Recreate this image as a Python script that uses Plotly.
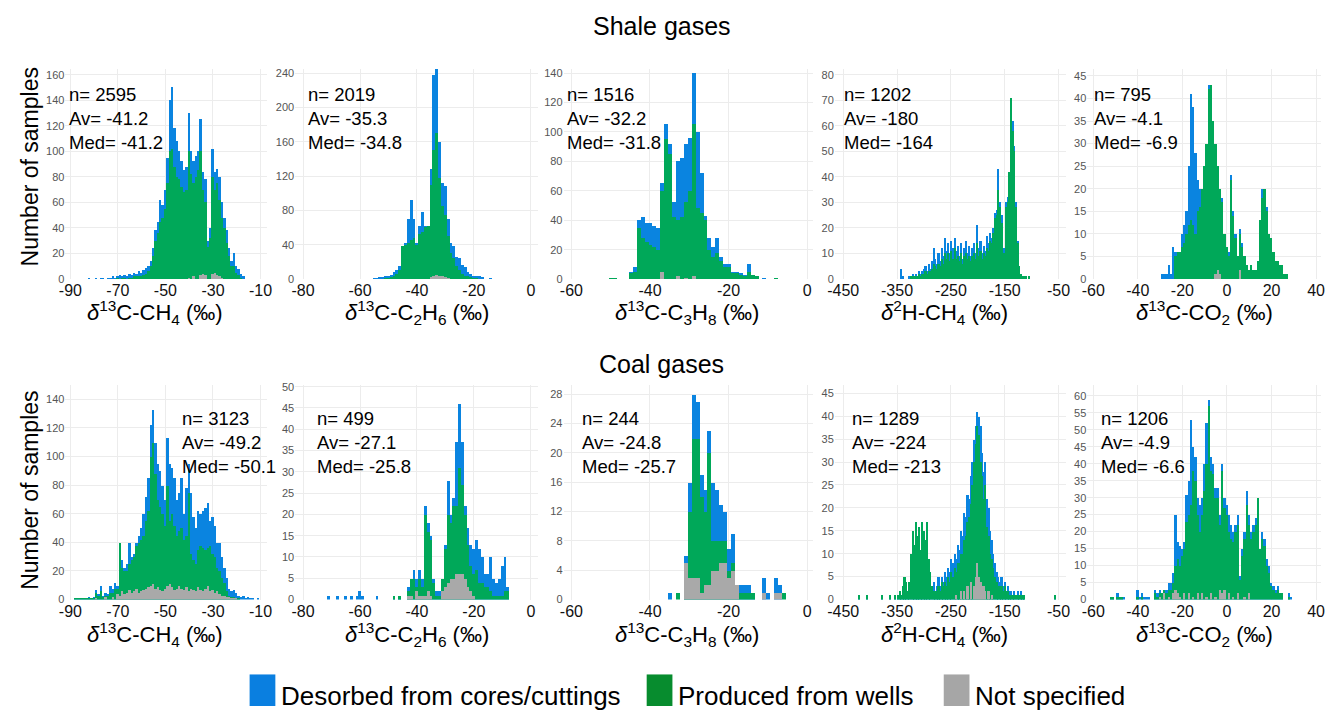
import plotly.graph_objects as go

W, H = 1327, 712
BLUE = "#0a84e0"
GREEN = "#00a859"
GRAY = "#a9a9a9"
LEG_BLUE = "#0a7fe0"
LEG_GREEN = "#078c2e"
LEG_GRAY = "#a6a6a6"
FONT = "Liberation Sans, Arial, sans-serif"

# ---------------- data (bar heights as drawn: desorbed = total, produced, not specified) ----------------
# Shale gases, d13C-CH4, 1 permil bins starting at -82
shale_ch4_start, shale_ch4_bin = -82, 1
shale_ch4_desorbed = [1, 0, 0, 1, 0, 1, 1, 0, 1, 1,
                      2, 1, 2, 3, 2, 3, 2, 4, 3, 5,
                      4, 6, 5, 7, 9, 10, 14, 24, 38, 45,
                      62, 58, 70, 95, 140, 150, 118, 108, 100, 92,
                      85, 88, 130, 100, 92, 96, 100, 125, 84, 78,
                      30, 40, 102, 84, 86, 80, 60, 48, 38, 24,
                      14, 20, 10, 8, 4, 2]
shale_ch4_produced = [0, 0, 0, 0, 0, 0, 0, 0, 0, 0,
                      0, 0, 1, 0, 1, 1, 0, 1, 1, 2,
                      2, 2, 2, 3, 4, 6, 10, 18, 30, 36,
                      45, 48, 55, 75, 100, 102, 88, 80, 78, 72,
                      68, 70, 100, 82, 75, 80, 85, 100, 70, 60,
                      25, 32, 80, 70, 75, 62, 48, 40, 28, 18,
                      10, 10, 5, 3, 1, 0]
shale_ch4_unspecified = [0, 0, 0, 0, 0, 0, 0, 0, 0, 0,
                         0, 0, 0, 0, 0, 0, 0, 0, 0, 0,
                         0, 0, 0, 0, 0, 0, 0, 0, 0, 0,
                         0, 0, 0, 0, 0, 0, 0, 0, 0, 0,
                         0, 0, 1, 0, 2, 0, 0, 3, 4, 3,
                         0, 0, 4, 5, 3, 2, 1, 0, 0, 0,
                         0, 0, 0, 0, 0, 0]

# Shale gases, d13C-C2H6, 1 permil bins starting at -55
shale_c2_start, shale_c2_bin = -55, 1
shale_c2_desorbed = [1, 1, 2, 2, 3, 4, 5, 8, 10, 15,
                     38, 42, 70, 92, 70, 42, 62, 78, 62, 60,
                     128, 238, 245, 160, 112, 108, 70, 42, 38, 26,
                     24, 16, 14, 8, 6, 4, 4, 3, 2, 0,
                     0, 1]
shale_c2_produced = [0, 0, 0, 0, 1, 1, 2, 3, 6, 10,
                     38, 40, 42, 45, 48, 40, 52, 55, 60, 62,
                     110, 150, 170, 118, 85, 75, 50, 30, 25, 15,
                     10, 6, 4, 3, 2, 1, 1, 0, 0, 0,
                     0, 0]
shale_c2_unspecified = [0, 0, 0, 0, 0, 0, 0, 0, 0, 0,
                        0, 0, 0, 0, 0, 0, 0, 0, 0, 0,
                        2, 4, 5, 4, 3, 2, 1, 0, 0, 0,
                        0, 0, 0, 0, 0, 0, 0, 0, 0, 0,
                        0, 0]

# Shale gases, d13C-C3H8, 1 permil bins starting at -51
shale_c3_start, shale_c3_bin = -51, 1
shale_c3_desorbed = [0, 1, 1, 0, 0, 0, 5, 8, 40, 42,
                     38, 38, 36, 35, 65, 105, 92, 52, 80, 82,
                     92, 96, 140, 100, 72, 43, 28, 22, 28, 15,
                     10, 10, 5, 5, 4, 3, 10, 3, 2, 0,
                     1, 0, 0, 1]
shale_c3_produced = [0, 1, 1, 0, 0, 0, 4, 5, 35, 28,
                     25, 23, 22, 20, 60, 95, 85, 42, 40, 42,
                     52, 60, 105, 48, 45, 40, 20, 15, 18, 12,
                     8, 8, 4, 4, 3, 2, 5, 3, 2, 0,
                     0, 0, 0, 1]
shale_c3_unspecified = [0, 0, 0, 0, 0, 0, 0, 0, 0, 0,
                        0, 0, 0, 0, 5, 0, 0, 0, 2, 0,
                        1, 0, 2, 0, 0, 0, 0, 0, 0, 0,
                        0, 0, 0, 0, 0, 0, 0, 0, 0, 0,
                        0, 0, 0, 0]

# Shale gases, d2H-CH4, 3 permil bins starting at -342
shale_dh_start, shale_dh_bin = -342, 3
shale_dh_desorbed = [4, 1, 0, 0, 0, 1, 0, 2, 1, 2,
                     1, 3, 2, 3, 4, 5, 3, 6, 4, 7,
                     12, 8, 6, 10, 7, 12, 9, 16, 11, 14,
                     10, 15, 12, 16, 11, 13, 9, 14, 8, 12,
                     15, 10, 13, 9, 12, 14, 10, 21, 12, 15,
                     10, 13, 11, 17, 14, 18, 16, 20, 26, 27,
                     43, 30, 25, 12, 12, 30, 32, 42, 71, 62,
                     52, 30, 15, 5, 2, 1, 1, 0, 0, 1,
                     0]
shale_dh_produced = [0, 0, 0, 0, 0, 0, 1, 1, 1, 1,
                     1, 2, 1, 2, 2, 3, 2, 3, 3, 4,
                     6, 5, 4, 6, 5, 8, 6, 10, 8, 10,
                     7, 11, 8, 12, 8, 9, 7, 10, 6, 9,
                     10, 8, 9, 7, 9, 10, 8, 14, 9, 11,
                     8, 10, 9, 12, 11, 15, 14, 18, 24, 25,
                     35, 28, 22, 10, 10, 28, 30, 42, 71, 58,
                     50, 28, 14, 5, 2, 1, 1, 1, 0, 1,
                     0]
shale_dh_unspecified = []

# Shale gases, d13C-CO2, 1 permil bins starting at -29
shale_co2_start, shale_co2_bin = -29, 1
shale_co2_desorbed = [1, 1, 1, 3, 1, 7, 6, 6, 6, 10,
                      12, 15, 25, 41, 38, 28, 22, 20, 16, 18,
                      30, 43, 42, 35, 30, 25, 20, 18, 10, 7,
                      6, 23, 15, 10, 5, 11, 8, 5, 3, 2,
                      3, 2, 2, 4, 13, 20, 20, 16, 10, 9,
                      6, 4, 4, 3, 3, 1, 1]
shale_co2_produced = [0, 0, 0, 0, 0, 0, 5, 6, 6, 7,
                      8, 10, 12, 13, 12, 10, 15, 16, 20, 25,
                      30, 42, 43, 35, 30, 25, 20, 17, 10, 7,
                      5, 22, 14, 9, 5, 10, 7, 5, 3, 2,
                      3, 2, 2, 4, 13, 18, 20, 15, 10, 9,
                      6, 4, 4, 3, 3, 1, 1]
shale_co2_unspecified = [0, 0, 0, 0, 0, 0, 0, 0, 0, 0,
                         0, 0, 0, 0, 0, 0, 0, 0, 0, 0,
                         0, 0, 0, 0, 1, 2, 1, 0, 0, 0,
                         0, 0, 0, 0, 0, 2, 0, 0, 0, 0,
                         0, 0, 0, 0, 0, 0, 0, 0, 0, 0,
                         0, 0, 0, 0, 0, 0, 0]

# Coal gases, d13C-CH4, 1 permil bins starting at -88
coal_ch4_start, coal_ch4_bin = -88, 1
coal_ch4_desorbed = [1, 1, 1, 1, 1, 1, 2, 1, 2, 7,
                     4, 10, 3, 5, 4, 10, 8, 12, 10, 40,
                     28, 22, 25, 40, 30, 32, 40, 45, 50, 60,
                     72, 85, 122, 133, 110, 95, 90, 80, 70, 113,
                     95, 92, 85, 70, 75, 85, 60, 78, 95, 75,
                     58, 50, 62, 60, 62, 64, 68, 55, 58, 52,
                     40, 40, 30, 22, 15, 8, 6, 7, 5, 3,
                     2, 3, 1, 2, 1, 1, 0, 1]
coal_ch4_produced = [1, 1, 1, 1, 1, 1, 1, 1, 1, 5,
                     3, 6, 2, 3, 3, 5, 5, 8, 8, 40,
                     22, 20, 20, 25, 28, 30, 38, 40, 42, 45,
                     55, 62, 100, 110, 88, 70, 65, 60, 52, 80,
                     55, 60, 52, 45, 48, 50, 42, 45, 75, 32,
                     28, 25, 35, 38, 36, 35, 36, 38, 32, 30,
                     22, 20, 15, 12, 6, 3, 2, 2, 1, 1,
                     0, 0, 0, 0, 0, 0, 0, 0]
coal_ch4_unspecified = [0, 0, 0, 0, 0, 0, 0, 0, 0, 1,
                        0, 0, 0, 2, 0, 0, 2, 0, 4, 3,
                        6, 4, 5, 7, 5, 6, 8, 5, 6, 7,
                        8, 9, 10, 11, 8, 9, 7, 6, 8, 10,
                        11, 9, 7, 8, 10, 8, 7, 9, 6, 8,
                        7, 6, 9, 7, 6, 8, 10, 6, 7, 5,
                        6, 4, 3, 3, 2, 2, 1, 1, 1, 0,
                        0, 0, 0, 0, 0, 0, 0, 0]

# Coal gases, d13C-C2H6, 1 permil bins starting at -72
coal_c2_start, coal_c2_bin = -72, 1
coal_c2_desorbed = [0, 1, 0, 0, 1, 0, 0, 1, 0, 1,
                    0, 1, 2, 1, 0, 0, 0, 0, 1, 0,
                    0, 0, 0, 0, 1, 0, 1, 0, 0, 3,
                    5, 7, 5, 7, 5, 22, 18, 15, 5, 2,
                    2, 5, 13, 28, 20, 24, 37, 46, 37, 22,
                    17, 13, 12, 14, 12, 10, 6, 6, 10, 5,
                    4, 5, 8, 10, 3]
coal_c2_produced = [0, 0, 0, 0, 0, 0, 0, 0, 0, 0,
                    0, 0, 0, 0, 0, 0, 0, 0, 0, 0,
                    0, 0, 0, 0, 1, 0, 1, 0, 0, 2,
                    5, 5, 3, 5, 3, 20, 16, 14, 4, 1,
                    1, 5, 12, 20, 18, 22, 22, 31, 27, 20,
                    13, 8, 6, 7, 4, 4, 3, 3, 2, 1,
                    1, 1, 1, 2, 2]
coal_c2_unspecified = [0, 0, 0, 0, 0, 0, 0, 0, 0, 0,
                       0, 0, 0, 0, 0, 0, 0, 0, 0, 0,
                       0, 0, 0, 0, 0, 0, 0, 0, 0, 1,
                       1, 0, 2, 1, 1, 1, 2, 1, 0, 0,
                       0, 2, 3, 4, 5, 5, 6, 6, 6, 5,
                       3, 2, 1, 0, 0, 0, 0, 0, 0, 0,
                       0, 0, 0, 0, 0]

# Coal gases, d13C-C3H8, 1 permil bins starting at -35
coal_c3_start, coal_c3_bin = -35, 1
coal_c3_desorbed = [1, 0, 0, 0, 6, 16, 28, 27, 17, 15,
                    23, 16, 15, 13, 12, 7, 9, 2, 2, 2,
                    2, 1, 0, 0, 3, 1, 0, 3, 2, 0,
                    0]
coal_c3_produced = [0, 0, 1, 0, 5, 12, 22, 22, 14, 12,
                    20, 8, 8, 8, 8, 4, 5, 1, 1, 1,
                    1, 1, 0, 0, 0, 0, 0, 0, 0, 1,
                    0]
coal_c3_unspecified = [0, 0, 0, 0, 5, 3, 3, 3, 1, 2,
                       2, 4, 4, 5, 5, 3, 4, 2, 0, 0,
                       0, 0, 0, 0, 1, 0, 0, 1, 1, 0,
                       0]

# Coal gases, d2H-CH4, 3 permil bins starting at -420
coal_dh_start, coal_dh_bin = -420, 3
coal_dh_desorbed = [1, 0, 0, 0, 0, 1, 0, 0, 0, 0,
                    0, 0, 0, 0, 1, 0, 0, 0, 0, 1,
                    0, 0, 1, 0, 1, 2, 1, 3, 5, 4,
                    2, 4, 10, 15, 12, 17, 14, 16, 11, 17,
                    15, 13, 17, 9, 6, 3, 4, 2, 3, 5,
                    3, 5, 4, 6, 5, 7, 6, 9, 8, 10,
                    9, 12, 11, 15, 14, 19, 18, 23, 22, 27,
                    30, 35, 38, 41, 40, 38, 32, 28, 30, 22,
                    20, 15, 13, 10, 8, 6, 5, 4, 5, 3,
                    4, 2, 3, 2, 2, 1, 2, 1, 2, 1,
                    2, 1, 1, 0, 0, 0, 0, 0, 0, 0,
                    0, 0, 0, 0, 0, 0, 0, 0, 0, 0,
                    0, 1]
coal_dh_produced = [1, 0, 0, 0, 0, 1, 0, 0, 0, 0,
                    0, 0, 0, 0, 1, 0, 0, 0, 0, 1,
                    0, 0, 1, 0, 1, 2, 1, 3, 5, 4,
                    2, 4, 10, 15, 12, 17, 14, 16, 11, 17,
                    15, 13, 17, 9, 6, 3, 2, 2, 2, 3,
                    2, 4, 3, 4, 3, 5, 4, 6, 5, 7,
                    6, 8, 8, 10, 10, 13, 14, 17, 18, 21,
                    25, 30, 34, 38, 36, 30, 27, 22, 25, 16,
                    14, 10, 9, 7, 5, 4, 3, 3, 3, 2,
                    3, 2, 2, 1, 1, 1, 1, 1, 1, 1,
                    1, 1, 1, 0, 0, 0, 0, 0, 0, 0,
                    0, 0, 0, 0, 0, 0, 0, 0, 0, 0,
                    0, 1]
coal_dh_unspecified = [0, 0, 0, 0, 0, 0, 0, 0, 0, 0,
                       0, 0, 0, 0, 0, 0, 0, 0, 0, 0,
                       0, 0, 0, 0, 0, 0, 0, 0, 0, 0,
                       0, 0, 0, 0, 0, 0, 0, 0, 0, 0,
                       0, 0, 0, 0, 0, 0, 0, 0, 0, 0,
                       0, 0, 0, 0, 0, 0, 0, 0, 0, 0,
                       1, 0, 0, 2, 0, 2, 0, 3, 0, 4,
                       0, 3, 5, 8, 5, 4, 3, 3, 2, 0,
                       2, 0, 1, 0, 0, 0, 0, 0, 0, 0]

# Coal gases, d13C-CO2, 1 permil bins starting at -52
coal_co2_start, coal_co2_bin = -52, 1
coal_co2_desorbed = [1, 1, 0, 2, 1, 1, 1, 0, 0, 0,
                     0, 0, 3, 1, 2, 1, 1, 1, 0, 0,
                     3, 2, 3, 2, 3, 3, 5, 5, 8, 25,
                     17, 16, 15, 17, 31, 35, 53, 45, 42, 30,
                     28, 30, 40, 52, 59, 42, 40, 33, 33, 25,
                     40, 30, 28, 25, 22, 20, 22, 25, 7, 15,
                     20, 32, 25, 20, 22, 24, 30, 15, 20, 18,
                     12, 10, 5, 4, 3, 4, 2, 2, 0, 0,
                     2, 1]
coal_co2_produced = [1, 1, 0, 1, 1, 1, 0, 0, 0, 0,
                     0, 0, 1, 0, 1, 0, 0, 0, 0, 0,
                     2, 1, 2, 2, 3, 2, 3, 3, 5, 10,
                     12, 10, 13, 15, 23, 25, 28, 38, 35, 25,
                     20, 25, 32, 40, 57, 38, 37, 30, 30, 22,
                     38, 27, 25, 20, 18, 17, 20, 22, 6, 13,
                     18, 28, 22, 18, 20, 22, 30, 15, 18, 16,
                     10, 8, 4, 3, 2, 3, 2, 2, 0, 0,
                     1, 0]
coal_co2_unspecified = [0, 0, 0, 0, 0, 0, 0, 0, 0, 0,
                        0, 0, 0, 0, 0, 0, 0, 0, 0, 0,
                        0, 0, 1, 0, 2, 0, 1, 0, 2, 3,
                        2, 1, 0, 2, 0, 2, 0, 1, 0, 2,
                        0, 2, 0, 1, 0, 2, 0, 1, 0, 3,
                        2, 3, 0, 2, 0, 1, 0, 2, 0, 0,
                        1, 0, 2, 0, 0, 0, 0, 0, 0, 0,
                        0, 0, 0, 0, 0, 0, 0, 0, 0, 0,
                        0, 0]

# summary statistics printed in each panel
shale_n = [2595, 2019, 1516, 1202, 795]
shale_av = ["-41.2", "-35.3", "-32.2", "-180", "-4.1"]
shale_med = ["-41.2", "-34.8", "-31.8", "-164", "-6.9"]
coal_n = [3123, 499, 244, 1289, 1206]
coal_av = ["-49.2", "-27.1", "-24.8", "-224", "-4.9"]
coal_med = ["-50.1", "-25.8", "-25.7", "-213", "-6.6"]

# axis labels / ticks
x_titles = ["<i>δ</i><sup>13</sup>C-CH<sub>4</sub> (‰)",
            "<i>δ</i><sup>13</sup>C-C<sub>2</sub>H<sub>6</sub> (‰)",
            "<i>δ</i><sup>13</sup>C-C<sub>3</sub>H<sub>8</sub> (‰)",
            "<i>δ</i><sup>2</sup>H-CH<sub>4</sub> (‰)",
            "<i>δ</i><sup>13</sup>C-CO<sub>2</sub> (‰)"]
x_tickvals = [[-90, -70, -50, -30, -10],
              [-80, -60, -40, -20, 0],
              [-60, -40, -20, 0],
              [-450, -350, -250, -150, -50],
              [-60, -40, -20, 0, 20, 40]]
shale_y_dtick = [20, 40, 20, 10, 5]
shale_y_max = [164.4, 244.6, 142.7, 82.2, 46.5]
coal_y_dtick = [20, 5, 4, 5, 5]
coal_y_max = [150.3, 50.5, 29.3, 46.9, 63.3]

# ---------------- layout geometry (pixels) ----------------
col_px = [(58, 262), (290, 535), (561, 813), (835, 1068), (1090, 1326)]
col_range = [(-92.08, -7.08), (-82.78, 2.43), (-62.02, 1.51), (-465.6, -37.1), (-62.67, 42.2)]
row_px = [(66, 279), (386, 604)]
stats_pos = [[(60, 79), (301, 79), (563, 79), (842, 79), (1095, 79)],
             [(174, 408), (310, 408), (578, 408), (850, 408), (1102, 408)]]
xtitle_center = [148, 413, 686, 946, 1208]
xtitle_y = [313, 639]


def px(x):
    return x / W


def py(y):
    return 1 - y / H


shale = [
    (shale_ch4_start, shale_ch4_bin, shale_ch4_desorbed, shale_ch4_produced, shale_ch4_unspecified),
    (shale_c2_start, shale_c2_bin, shale_c2_desorbed, shale_c2_produced, shale_c2_unspecified),
    (shale_c3_start, shale_c3_bin, shale_c3_desorbed, shale_c3_produced, shale_c3_unspecified),
    (shale_dh_start, shale_dh_bin, shale_dh_desorbed, shale_dh_produced, shale_dh_unspecified),
    (shale_co2_start, shale_co2_bin, shale_co2_desorbed, shale_co2_produced, shale_co2_unspecified),
]
coal = [
    (coal_ch4_start, coal_ch4_bin, coal_ch4_desorbed, coal_ch4_produced, coal_ch4_unspecified),
    (coal_c2_start, coal_c2_bin, coal_c2_desorbed, coal_c2_produced, coal_c2_unspecified),
    (coal_c3_start, coal_c3_bin, coal_c3_desorbed, coal_c3_produced, coal_c3_unspecified),
    (coal_dh_start, coal_dh_bin, coal_dh_desorbed, coal_dh_produced, coal_dh_unspecified),
    (coal_co2_start, coal_co2_bin, coal_co2_desorbed, coal_co2_produced, coal_co2_unspecified),
]

fig = go.Figure()
layout = {}
annotations = []

rows = [(shale, shale_y_dtick, shale_y_max, shale_n, shale_av, shale_med),
        (coal, coal_y_dtick, coal_y_max, coal_n, coal_av, coal_med)]

idx = 0
for r, (panels, dticks, ymaxs, ns, avs, meds) in enumerate(rows):
    for c in range(5):
        idx += 1
        xa = "x" if idx == 1 else f"x{idx}"
        ya = "y" if idx == 1 else f"y{idx}"
        start, binw, des, pro, uns = panels[c]
        for vals, col in ((des, BLUE), (pro, GREEN), (uns, GRAY)):
            if len(vals) == 0:
                continue
            fig.add_trace(go.Bar(x0=start, dx=binw, y=vals, width=binw,
                                 marker=dict(color=col, line=dict(width=0)),
                                 xaxis=xa, yaxis=ya, showlegend=False,
                                 hoverinfo="skip"))
        xkey = "xaxis" if idx == 1 else f"xaxis{idx}"
        ykey = "yaxis" if idx == 1 else f"yaxis{idx}"
        x0p, x1p = col_px[c]
        top, bot = row_px[r]
        layout[xkey] = dict(domain=[px(x0p), px(x1p)], anchor=ya,
                            range=list(col_range[c]),
                            tickvals=x_tickvals[c],
                            ticktext=[str(v) for v in x_tickvals[c]],
                            showgrid=True, gridcolor="#ececec", gridwidth=1,
                            zeroline=False, showline=False, ticks="",
                            tickfont=dict(family=FONT, size=16, color="#111111"),
                            fixedrange=True)
        layout[ykey] = dict(domain=[py(bot), py(top)], anchor=xa,
                            range=[0, ymaxs[c]], dtick=dticks[c], tick0=0,
                            showgrid=True, gridcolor="#ececec", gridwidth=1,
                            zeroline=False, showline=False, ticks="",
                            tickfont=dict(family=FONT, size=11, color="#555555"),
                            fixedrange=True)
        sx, sy = stats_pos[r][c]
        annotations.append(dict(
            x=px(sx), y=py(sy), xref="paper", yref="paper",
            xanchor="left", yanchor="top", align="left", showarrow=False,
            text=f"n= {ns[c]}<br>Av= {avs[c]}<br>Med= {meds[c]}",
            font=dict(family=FONT, size=18.5, color="#000000")))
        annotations.append(dict(
            x=px(xtitle_center[c]), y=py(xtitle_y[r]), xref="paper", yref="paper",
            xanchor="center", yanchor="middle", showarrow=False,
            text=x_titles[c], font=dict(family=FONT, size=22, color="#000000")))

# row titles and y-axis titles
for text, yc in (("Shale gases", 22), ("Coal gases", 365)):
    annotations.append(dict(x=px(660), y=py(yc), xref="paper", yref="paper",
                            xanchor="center", yanchor="middle", showarrow=False,
                            text=text, font=dict(family=FONT, size=25, color="#000000")))
for yc in (165, 493):
    annotations.append(dict(x=px(22), y=py(yc), xref="paper", yref="paper",
                            xanchor="center", yanchor="middle", showarrow=False,
                            textangle=-90, text="Number of samples",
                            font=dict(family=FONT, size=23, color="#000000")))

# legend drawn as boxes + labels
legend_items = [("Desorbed from cores/cuttings", LEG_BLUE, 244),
                ("Produced from wells", LEG_GREEN, 645),
                ("Not specified", LEG_GRAY, 945)]
shapes = []
for label, col, x0 in legend_items:
    shapes.append(dict(type="rect", xref="paper", yref="paper",
                       x0=px(x0), x1=px(x0 + 26), y0=py(712), y1=py(680),
                       fillcolor=col, line=dict(width=0)))
    annotations.append(dict(x=px(x0 + 30), y=py(702), xref="paper", yref="paper",
                            xanchor="left", yanchor="middle", showarrow=False,
                            text=label, font=dict(family=FONT, size=26, color="#000000")))

fig.update_layout(
    width=W, height=H,
    margin=dict(l=0, r=0, t=0, b=0),
    paper_bgcolor="white", plot_bgcolor="white",
    barmode="overlay", bargap=0,
    showlegend=False,
    annotations=annotations,
    shapes=shapes,
    hovermode=False,
    **layout,
)

fig.write_html("out.html")
